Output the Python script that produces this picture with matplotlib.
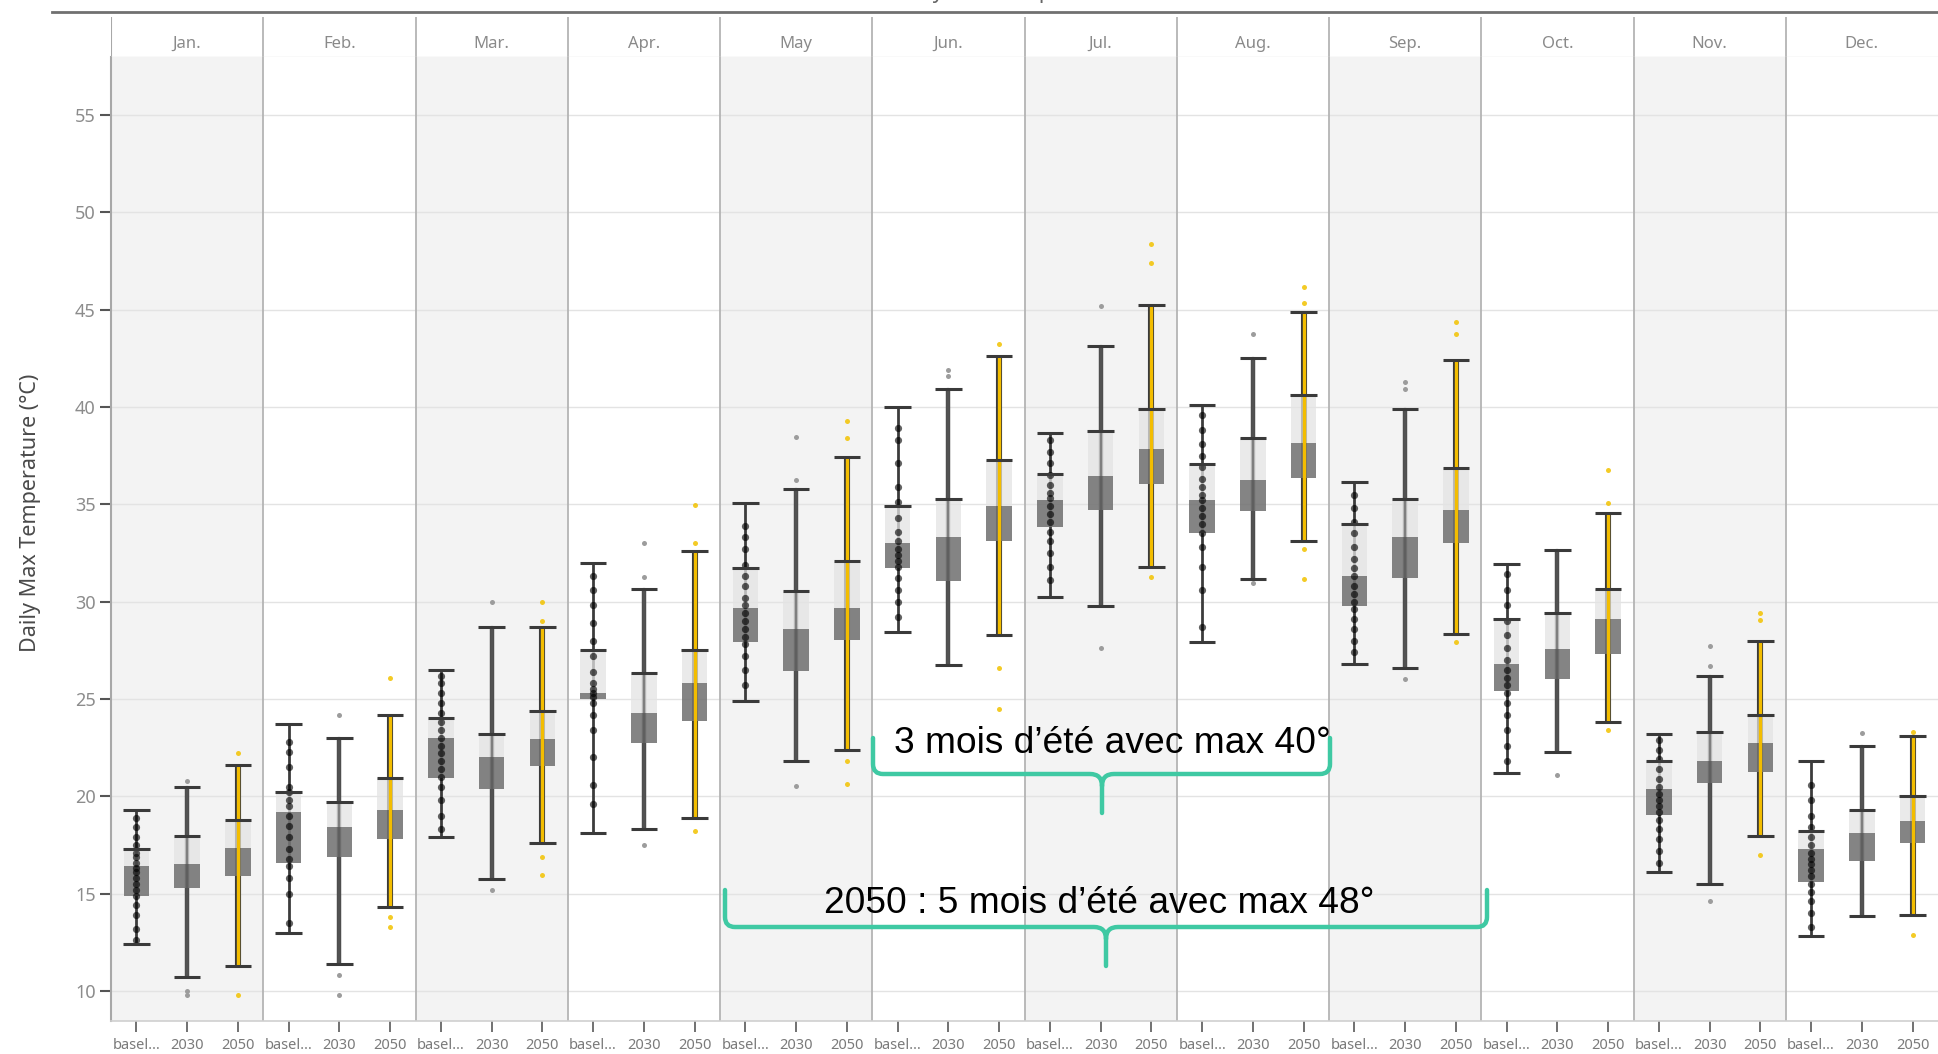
import matplotlib
matplotlib.use("Agg")
import matplotlib.pyplot as plt
from matplotlib.path import Path
from matplotlib.patches import PathPatch, Rectangle
from matplotlib.lines import Line2D

plt.rcParams['font.family'] = ['Noto Sans', 'DejaVu Sans']

# ---------------- data ----------------
months = ['Jan.', 'Feb.', 'Mar.', 'Apr.', 'May', 'Jun.', 'Jul.', 'Aug.', 'Sep.', 'Oct.', 'Nov.', 'Dec.']
scenarios = ['basel…', '2030', '2050']
yticks = [10, 15, 20, 25, 30, 35, 40, 45, 50, 55]

base_min = [12.4, 13.0, 17.9, 18.1, 24.89, 28.44, 30.26, 27.9, 26.82, 21.2, 16.1, 12.8]
base_q1  = [14.9, 16.6, 20.95, 24.99, 27.93, 31.73, 33.81, 33.5, 29.75, 25.4, 19.05, 15.6]
base_med = [16.4, 19.2, 23.0, 25.3, 29.65, 33.0, 35.22, 35.22, 31.32, 26.8, 20.4, 17.3]
base_q3  = [17.3, 20.2, 24.0, 27.53, 31.73, 34.92, 36.54, 37.05, 34.01, 29.1, 21.8, 18.2]
base_max = [19.3, 23.7, 26.5, 31.98, 35.07, 39.99, 38.67, 40.09, 36.14, 31.95, 23.2, 21.8]

y30_min = [10.7, 11.4, 15.76, 18.31, 21.8, 26.72, 29.75, 31.17, 26.61, 22.26, 15.5, 13.86]
y30_q1  = [15.3, 16.9, 20.4, 22.76, 26.41, 31.07, 34.72, 34.67, 31.22, 26.0, 20.67, 16.7]
y30_med = [16.5, 18.4, 22.0, 24.28, 28.59, 33.3, 36.44, 36.24, 33.3, 27.57, 21.8, 18.1]
y30_q3  = [17.98, 19.7, 23.2, 26.31, 30.56, 35.28, 38.77, 38.42, 35.28, 29.4, 23.3, 19.3]
y30_max = [20.48, 22.98, 28.7, 30.67, 35.78, 40.9, 43.13, 42.52, 39.88, 32.67, 26.2, 22.6]

y50_min = [11.3, 14.3, 17.6, 18.91, 22.36, 28.29, 31.78, 33.1, 28.34, 23.8, 17.98, 13.9]
y50_q1  = [15.9, 17.8, 21.55, 23.88, 28.03, 33.1, 36.04, 36.34, 33.0, 27.3, 21.26, 17.6]
y50_med = [17.33, 19.3, 22.95, 25.8, 29.65, 34.92, 37.86, 38.16, 34.72, 29.1, 22.74, 18.74]
y50_q3  = [18.76, 20.95, 24.36, 27.53, 32.08, 37.25, 39.88, 40.59, 36.85, 30.64, 24.2, 20.0]
y50_max = [21.6, 24.2, 28.7, 32.59, 37.41, 42.62, 45.25, 44.85, 42.42, 34.57, 28.0, 23.1]

y30_out = [[20.8, 10.0, 9.8], [24.2, 10.8, 9.8], [30.0, 15.2], [33.0, 31.27, 17.5],
           [38.47, 36.24, 20.54], [41.61, 41.91], [45.2, 27.63], [43.73, 30.97],
           [41.3, 40.9, 26.01], [21.07], [27.7, 26.67, 14.64], [23.26]]
y50_out = [[22.2, 9.8], [26.1, 13.8, 13.3], [30.0, 29.0, 16.86, 15.95], [34.97, 33.0, 18.2],
           [39.28, 38.42, 21.8, 20.64], [43.23, 26.61, 24.49], [48.39, 47.38, 31.27],
           [46.17, 45.36, 32.69, 31.17], [44.34, 43.73, 27.93], [36.76, 35.05, 23.4],
           [29.4, 29.05, 17.0], [23.3, 12.86]]

base_days = [
    [12.6, 13.2, 13.9, 14.4, 14.9, 15.2, 15.5, 15.8, 16.1, 16.3, 16.6, 16.9, 17.1, 17.5, 17.9, 18.4, 18.9],
    [13.5, 15.0, 15.8, 16.4, 16.8, 17.3, 17.9, 18.5, 19.0, 19.5, 19.8, 20.2, 20.5, 21.5, 22.3, 22.8],
    [18.3, 19.0, 19.8, 20.5, 21.0, 21.4, 21.8, 22.2, 22.6, 23.0, 23.4, 23.8, 24.3, 24.8, 25.3, 25.8, 26.2],
    [19.6, 20.6, 22.0, 23.4, 24.2, 24.8, 25.1, 25.3, 25.5, 25.8, 26.4, 27.2, 28.0, 28.9, 29.8, 30.6, 31.3],
    [25.7, 26.5, 27.2, 27.8, 28.2, 28.6, 29.0, 29.4, 29.8, 30.2, 30.8, 31.3, 31.9, 32.7, 33.3, 33.9],
    [29.2, 30.0, 30.6, 31.2, 31.8, 32.1, 32.4, 32.7, 33.1, 33.6, 34.3, 35.1, 35.9, 37.1, 38.3, 38.9],
    [31.1, 31.8, 32.5, 33.1, 33.6, 34.1, 34.5, 34.9, 35.3, 35.6, 36.0, 36.5, 37.1, 37.7, 38.3],
    [28.7, 30.6, 31.8, 32.8, 33.5, 34.0, 34.4, 34.8, 35.2, 35.5, 35.9, 36.3, 36.9, 37.5, 38.1, 38.8, 39.6],
    [27.4, 28.0, 28.6, 29.1, 29.6, 30.0, 30.4, 30.8, 31.3, 31.7, 32.2, 32.8, 33.5, 34.1, 34.8, 35.5],
    [21.8, 22.6, 23.4, 24.2, 24.8, 25.3, 25.7, 26.1, 26.5, 27.0, 27.6, 28.3, 29.0, 29.8, 30.6, 31.4],
    [16.6, 17.2, 17.8, 18.3, 18.8, 19.2, 19.5, 19.8, 20.1, 20.5, 20.9, 21.4, 21.9, 22.4, 22.9],
    [13.3, 14.0, 14.6, 15.1, 15.5, 15.9, 16.2, 16.5, 16.8, 17.1, 17.5, 17.9, 18.4, 19.0, 19.8, 20.6],
]

# ---------------- figure ----------------
W, H = 1938, 1054
fig = plt.figure(figsize=(W / 100, H / 100), dpi=100)
fig.patch.set_facecolor('white')


def fx(px):
    return px / W


def fy(py):
    return 1 - py / H


X0, X1, YT, YB, YH = 111, 1938, 57, 1021, 17
ax = fig.add_axes([fx(X0), fy(YB), fx(X1) - fx(X0), fy(YT) - fy(YB)])
hax = fig.add_axes([fx(X0), fy(YT), fx(X1) - fx(X0), fy(YH) - fy(YT)])

ax.set_xlim(-0.5, 35.5)
ax.set_ylim(8.46, 57.97)
hax.set_xlim(-0.5, 35.5)
hax.set_ylim(0, 1)

# panel backgrounds
for m in range(12):
    if m % 2 == 0:
        ax.axvspan(3 * m - 0.5, 3 * m + 2.5, color='#f3f3f3', zorder=0, lw=0)
# grid
for v in yticks:
    ax.axhline(v, color='#e3e3e3', lw=1.0, zorder=0.5)
# separators
for m in range(1, 12):
    ax.axvline(3 * m - 0.5, color='#b4b4b4', lw=1.3, zorder=1)
    hax.axvline(3 * m - 0.5, color='#b4b4b4', lw=1.3, zorder=1)
hax.axvline(-0.5, color='#a8a8a8', lw=1.5)
hax.axhline(0, color='#e2e2e2', lw=1.0)
for m, name in enumerate(months):
    hax.text(3 * m + 1, 0.33, name, ha='center', va='center', fontsize=12, color='#8a8a8a')
hax.set_xticks([])
hax.set_yticks([])
for sp in hax.spines.values():
    sp.set_visible(False)

stats = [
    (base_min, base_q1, base_med, base_q3, base_max),
    (y30_min, y30_q1, y30_med, y30_q3, y30_max),
    (y50_min, y50_q1, y50_med, y50_q3, y50_max),
]
bw = 0.5
cw = 0.52
for m in range(12):
    for s in range(3):
        x = 3 * m + s
        mn, q1, md, q3, mx = (arr[m] for arr in stats[s])
        if s == 0:
            ax.plot([x, x], [mn, mx], color='#3c3c3c', lw=2.0, zorder=3, solid_capstyle='butt')
        elif s == 1:
            ax.plot([x, x], [mn, mx], color='#4e4e4e', lw=3.2, zorder=3, solid_capstyle='butt')
        else:
            ax.plot([x, x], [mn, mx], color='#3a3a3a', lw=4.4, zorder=3, solid_capstyle='butt')
        ax.add_patch(Rectangle((x - bw / 2, md), bw, q3 - md, fc='#e4e4e4', ec='none',
                               alpha=0.75, zorder=4))
        ax.add_patch(Rectangle((x - bw / 2, q1), bw, md - q1, fc='#737373', ec='none',
                               alpha=0.88, zorder=4))
        if s == 0:
            ax.plot([x] * len(base_days[m]), base_days[m], 'o', ms=5.2, color='black',
                    alpha=0.62, mec='none', zorder=5)
        elif s == 1:
            ax.plot([x, x], [mn, mx], color='#555555', lw=1.6, alpha=0.6, zorder=5)
            ax.plot([x] * len(y30_out[m]), y30_out[m], 'o', ms=3.6, color='#9c9c9c',
                    mec='none', zorder=5)
        else:
            ax.plot([x, x], [mn, mx], color='#f3bd00', lw=2.4, zorder=5, solid_capstyle='butt')
            ax.plot([x] * len(y50_out[m]), y50_out[m], 'o', ms=3.6, color='#f2c200',
                    mec='none', alpha=0.85, zorder=5)
        for v in (mn, q3, mx):
            ax.plot([x - cw / 2, x + cw / 2], [v, v], color='#3a3a3a', lw=2.2, zorder=6,
                    solid_capstyle='butt')

# axes styling
for k in ('top', 'right'):
    ax.spines[k].set_visible(False)
ax.spines['left'].set_color('#a8a8a8')
ax.spines['left'].set_linewidth(1.5)
ax.spines['bottom'].set_color('#cfcfcf')
ax.spines['bottom'].set_linewidth(1.2)
ax.set_yticks(yticks)
ax.set_yticklabels([str(v) for v in yticks])
ax.tick_params(axis='y', direction='out', length=8, width=1.5, color='#555555',
               labelcolor='#8c8c8c', labelsize=13, pad=3)
ax.set_xticks(range(36))
ax.set_xticklabels(scenarios * 12)
ax.tick_params(axis='x', direction='out', length=8, width=1.3, color='#666666',
               labelcolor='#7a7a7a', labelsize=10.5, pad=4)

fig.text(fx(31), fy(513), 'Daily Max Temperature (°C)', rotation=90, ha='center', va='center',
         fontsize=15.5, color='#4a4a4a')

# top rule and clipped title
fig.add_artist(Line2D([fx(52), fx(1938)], [fy(12), fy(12)], color='#707070', lw=2.0))
fig.text(fx(1010), fy(-2), 'Daily Max Temperature', ha='center', va='baseline',
         fontsize=15, color='#666666')

# annotations
teal = '#3fc9a3'


def brace(xl, xr, xc, ytop, yline, ytip, r=10):
    verts = [(xl, ytop), (xl, yline - r), (xl, yline), (xl + r, yline),
             (xc - 12, yline), (xc, yline), (xc, yline + 12), (xc, ytip),
             (xc, yline + 12), (xc, yline), (xc + 12, yline),
             (xr - r, yline), (xr, yline), (xr, yline - r), (xr, ytop)]
    codes = [Path.MOVETO, Path.LINETO, Path.CURVE3, Path.CURVE3,
             Path.LINETO, Path.CURVE3, Path.CURVE3, Path.LINETO,
             Path.MOVETO, Path.CURVE3, Path.CURVE3,
             Path.LINETO, Path.CURVE3, Path.CURVE3, Path.LINETO]
    verts = [(fx(a), fy(b)) for a, b in verts]
    p = PathPatch(Path(verts, codes), transform=fig.transFigure, fill=False,
                  ec=teal, lw=3.2, capstyle='round', joinstyle='round')
    fig.add_artist(p)


brace(873, 1330, 1102, 738, 774, 813)
brace(725, 1487, 1106, 890, 927, 966)

fig.text(fx(1112), fy(753), '3 mois d’été avec max 40°', ha='center', va='baseline',
         fontsize=26.7, family=['Liberation Sans', 'DejaVu Sans'], color='black')
fig.text(fx(1099), fy(913), '2050 : 5 mois d’été avec max 48°', ha='center', va='baseline',
         fontsize=26.7, family=['Liberation Sans', 'DejaVu Sans'], color='black')

fig.savefig('out.png', dpi=100, facecolor='white')
